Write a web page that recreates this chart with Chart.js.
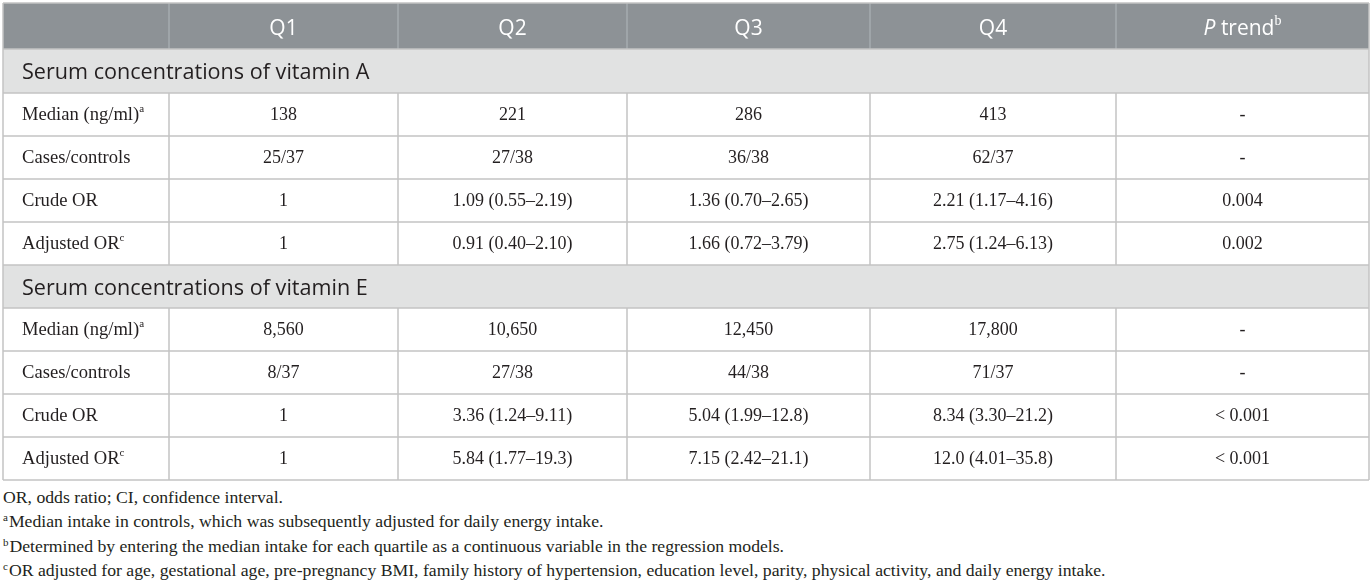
<!DOCTYPE html>
<html>
<head>
<meta charset="utf-8">
<script src="https://cdn.jsdelivr.net/npm/chart.js@4.4.0/dist/chart.umd.min.js"></script>
<style>
  html, body { margin: 0; padding: 0; background: #fff; }
  #wrap { position: absolute; left: 0; top: 0; width: 1372px; height: 484px; }
  .notes { position: absolute; left: 3px; top: 485px; font-family: "Liberation Serif", serif; font-size: 17.7px; color: #231f20; line-height: 24.4px; white-space: nowrap; }
  .notes sup { font-size: 11px; vertical-align: 6px; line-height: 0; margin-right: 1px; }
</style>
</head>
<body>
<div id="wrap"><canvas id="tableChart" width="1372" height="484"></canvas></div>
<div class="notes" id="notes"></div>
<script>
// table content
const columns = ['Q1', 'Q2', 'Q3', 'Q4'];
const sectionTitles = ['Serum concentrations of vitamin A', 'Serum concentrations of vitamin E'];
const rowLabels = ['Median (ng/ml)', 'Cases/controls', 'Crude OR', 'Adjusted OR'];
const rowSups = ['a', '', '', 'c'];

const vitAMedian = [138, 221, 286, 413];
const vitACases = ['25/37', '27/38', '36/38', '62/37'];
const vitACrude = ['1', '1.09 (0.55–2.19)', '1.36 (0.70–2.65)', '2.21 (1.17–4.16)'];
const vitAAdjusted = ['1', '0.91 (0.40–2.10)', '1.66 (0.72–3.79)', '2.75 (1.24–6.13)'];
const vitAPTrend = ['-', '-', '0.004', '0.002'];

const vitEMedian = [8560, 10650, 12450, 17800];
const vitECases = ['8/37', '27/38', '44/38', '71/37'];
const vitECrude = ['1', '3.36 (1.24–9.11)', '5.04 (1.99–12.8)', '8.34 (3.30–21.2)'];
const vitEAdjusted = ['1', '5.84 (1.77–19.3)', '7.15 (2.42–21.1)', '12.0 (4.01–35.8)'];
const vitEPTrend = ['-', '-', '< 0.001', '< 0.001'];

const footnotes = [
    ['', 'OR, odds ratio; CI, confidence interval.'],
    ['a', 'Median intake in controls, which was subsequently adjusted for daily energy intake.'],
    ['b', 'Determined by entering the median intake for each quartile as a continuous variable in the regression models.'],
    ['c', 'OR adjusted for age, gestational age, pre-pregnancy BMI, family history of hypertension, education level, parity, physical activity, and daily energy intake.']
];

// layout (in scale units, which map 1:1 to the canvas)
const colEdges = [3, 169, 398, 627, 870, 1116, 1369];
const rowEdges = [3, 49, 93, 136, 179, 222, 265, 308, 351, 394, 437, 480];

const HEAD_FONT = '21px "Open Sans"';
const HEAD_ITALIC = 'italic 21px "Open Sans"';
const SECTION_FONT = '21.6px "Open Sans"';
const BODY_FONT = '18px "Liberation Serif"';
const LABEL_FONT = '18.6px "Liberation Serif"';
const SUP_FONT = '11px "Liberation Serif"';
const TEXT_COLOR = '#231f20';

// build the rows from the arrays above
function buildRows() {
    const rows = [{ type: 'header' }];
    const sets = [
        [vitAMedian, vitACases, vitACrude, vitAAdjusted, vitAPTrend],
        [vitEMedian, vitECases, vitECrude, vitEAdjusted, vitEPTrend]
    ];
    sets.forEach((s, si) => {
        rows.push({ type: 'section', text: sectionTitles[si] });
        for (let r = 0; r < 4; r++) {
            const vals = s[r].map(v => typeof v === 'number' ? v.toLocaleString('en-US') : v);
            rows.push({ type: 'row', label: rowLabels[r], sup: rowSups[r], cells: vals.concat([s[4][r]]) });
        }
    });
    return rows;
}
const tableRows = buildRows();

// one point per body cell, placed at the cell centre
const cellPoints = [];
tableRows.forEach((row, ri) => {
    if (row.type !== 'row') return;
    row.cells.forEach((txt, ci) => {
        cellPoints.push({ x: (colEdges[ci + 1] + colEdges[ci + 2]) / 2, y: (rowEdges[ri] + rowEdges[ri + 1]) / 2, text: txt });
    });
});

function drawParts(ctx, parts, x, y, align) {
    let total = 0;
    parts.forEach(p => { ctx.font = p.font; total += ctx.measureText(p.t).width; });
    let cx = align === 'center' ? x - total / 2 : x;
    parts.forEach(p => {
        ctx.font = p.font;
        ctx.fillText(p.t, cx, y - (p.dy || 0));
        cx += ctx.measureText(p.t).width;
    });
}

const tablePlugin = {
    id: 'tablePlugin',
    beforeDatasetsDraw(chart) {
        const ctx = chart.ctx;
        const xs = chart.scales.x, ys = chart.scales.y;
        const X = v => xs.getPixelForValue(v);
        const Y = v => ys.getPixelForValue(v);
        const left = X(colEdges[0]), right = X(colEdges[colEdges.length - 1]);
        ctx.save();
        // backgrounds
        tableRows.forEach((row, ri) => {
            if (row.type === 'row') return;
            ctx.fillStyle = row.type === 'header' ? '#8d9296' : '#e1e2e2';
            ctx.fillRect(left, Y(rowEdges[ri]), right - left, Y(rowEdges[ri + 1]) - Y(rowEdges[ri]));
        });
        // vertical lines
        tableRows.forEach((row, ri) => {
            const y0 = Y(rowEdges[ri]), y1 = Y(rowEdges[ri + 1]);
            colEdges.forEach((c, ci) => {
                const outer = ci === 0 || ci === colEdges.length - 1;
                if (row.type === 'section' && !outer) return;
                ctx.strokeStyle = row.type === 'header' && !outer ? '#a6abaf' : '#c3c3c3';
                ctx.lineWidth = 1.5;
                ctx.beginPath();
                ctx.moveTo(X(c), y0);
                ctx.lineTo(X(c), y1);
                ctx.stroke();
            });
        });
        // horizontal lines
        rowEdges.forEach(r => {
            ctx.strokeStyle = '#c3c3c3';
            ctx.lineWidth = 1.5;
            ctx.beginPath();
            ctx.moveTo(left, Y(r));
            ctx.lineTo(right, Y(r));
            ctx.stroke();
        });
        ctx.restore();
    },
    afterDatasetsDraw(chart) {
        const ctx = chart.ctx;
        const xs = chart.scales.x, ys = chart.scales.y;
        const X = v => xs.getPixelForValue(v);
        const Y = v => ys.getPixelForValue(v);
        ctx.save();
        ctx.textBaseline = 'middle';
        tableRows.forEach((row, ri) => {
            const cy = Y((rowEdges[ri] + rowEdges[ri + 1]) / 2) + 1;
            if (row.type === 'header') {
                ctx.fillStyle = '#ffffff';
                columns.forEach((c, ci) => {
                    drawParts(ctx, [{ t: c, font: HEAD_FONT }], X((colEdges[ci + 1] + colEdges[ci + 2]) / 2), cy + 2, 'center');
                });
                drawParts(ctx, [
                    { t: 'P', font: HEAD_ITALIC },
                    { t: ' trend', font: HEAD_FONT },
                    { t: 'b', font: '14px "Liberation Serif"', dy: 8 }
                ], X((colEdges[5] + colEdges[6]) / 2), cy + 2, 'center');
            } else if (row.type === 'section') {
                ctx.fillStyle = TEXT_COLOR;
                drawParts(ctx, [{ t: row.text, font: SECTION_FONT }], X(colEdges[0]) + 19, cy + 1, 'left');
            } else {
                ctx.fillStyle = TEXT_COLOR;
                const parts = [{ t: row.label, font: LABEL_FONT }];
                if (row.sup) parts.push({ t: row.sup, font: SUP_FONT, dy: 6 });
                drawParts(ctx, parts, X(colEdges[0]) + 19, cy, 'left');
            }
        });
        // cell values from the dataset points
        const meta = chart.getDatasetMeta(0);
        ctx.fillStyle = TEXT_COLOR;
        meta.data.forEach((pt, i) => {
            drawParts(ctx, [{ t: cellPoints[i].text, font: BODY_FONT }], pt.x, pt.y + 1, 'center');
        });
        ctx.restore();
    }
};

new Chart(document.getElementById('tableChart'), {
    type: 'scatter',
    data: {
        datasets: [{ data: cellPoints, pointRadius: 0, pointHoverRadius: 0 }]
    },
    options: {
        responsive: false,
        animation: false,
        layout: { padding: 0 },
        scales: {
            x: { type: 'linear', min: 0, max: 1372, display: false },
            y: { type: 'linear', min: 0, max: 484, reverse: true, display: false }
        },
        plugins: { legend: { display: false }, tooltip: { enabled: false } }
    },
    plugins: [tablePlugin]
});

document.getElementById('notes').innerHTML = footnotes
    .map(f => '<div>' + (f[0] ? '<sup>' + f[0] + '</sup>' : '') + f[1] + '</div>')
    .join('');
</script>
</body>
</html>
